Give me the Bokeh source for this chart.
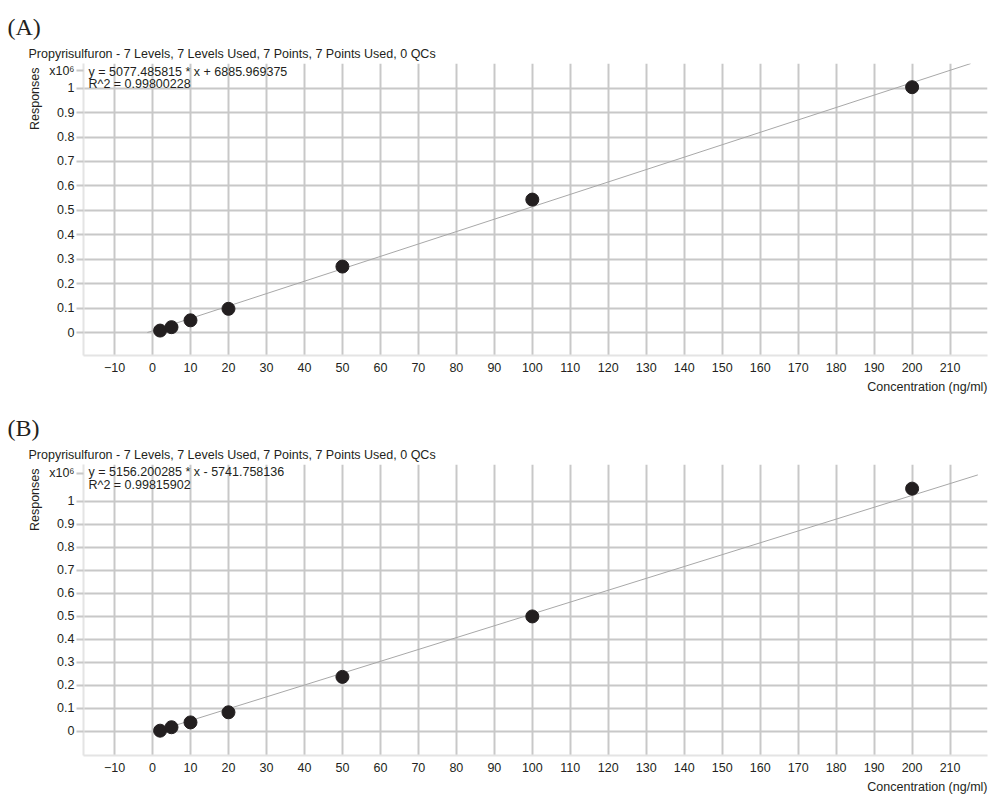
from bokeh.plotting import figure
from bokeh.models import Range1d, FixedTicker, Label, Title, ColumnDataSource
from bokeh.layouts import column
from bokeh.embed import file_html
from bokeh.resources import INLINE

# ---------------- data ----------------
concentrations = [2, 5, 10, 20, 50, 100, 200]          # ng/ml
responses_a = [0.008, 0.022, 0.050, 0.097, 0.270, 0.544, 1.004]   # x10^6
responses_b = [0.002, 0.017, 0.038, 0.082, 0.236, 0.499, 1.055]   # x10^6

slope_a, intercept_a, r2_a = 5077.485815, 6885.969375, "0.99800228"
slope_b, intercept_b, r2_b = 5156.200285, -5741.758136, "0.99815902"
fit_x_a = [-1.36, 215.4]
fit_x_b = [1.11, 217.3]

x_ticks = [-10, 0, 10, 20, 30, 40, 50, 60, 70, 80, 90, 100, 110, 120, 130,
           140, 150, 160, 170, 180, 190, 200, 210]
y_ticks = [0, 0.1, 0.2, 0.3, 0.4, 0.5, 0.6, 0.7, 0.8, 0.9, 1.0]
y_tick_labels = ["0", "0.1", "0.2", "0.3", "0.4", "0.5", "0.6", "0.7", "0.8", "0.9", "1"]
scale_label = "x10\u2076"

title_text = "Propyrisulfuron - 7 Levels, 7 Levels Used, 7 Points, 7 Points Used, 0 QCs"

SANS = "Liberation Sans"
SERIF = "Liberation Serif"
TXT = "#231f20"
GRID = "#c8c8c8"
BORDER = "#e4e4e4"
FS = "12.5px"


def panel(tag, resp, slope, intercept, r2, fit_x, height, border_top, border_bottom,
          y_range, scale_pos, eq_sign, eq_y):
    p = figure(width=991, height=height, output_backend="svg", toolbar_location=None,
               x_range=Range1d(-18.17, 219.85), y_range=Range1d(*y_range),
               min_border_left=83, min_border_right=4,
               min_border_top=border_top, min_border_bottom=border_bottom)
    p.outline_line_color = None
    p.background_fill_color = "white"
    p.border_fill_color = "white"

    yt = y_ticks + [scale_pos]
    p.xaxis.ticker = FixedTicker(ticks=x_ticks)
    p.yaxis.ticker = FixedTicker(ticks=yt)
    ov = {t: l for t, l in zip(y_ticks, y_tick_labels)}
    ov[scale_pos] = scale_label
    p.yaxis.major_label_overrides = ov
    p.xgrid.ticker = FixedTicker(ticks=x_ticks)
    p.ygrid.ticker = FixedTicker(ticks=y_ticks)
    for g in (p.xgrid, p.ygrid):
        g.grid_line_color = GRID
        g.grid_line_width = 2

    for ax in (p.xaxis, p.yaxis):
        ax.axis_line_color = BORDER
        ax.axis_line_width = 2
        ax.minor_tick_line_color = None
        ax.major_label_text_font = SANS
        ax.major_label_text_font_size = FS
        ax.major_label_text_color = TXT
    p.xaxis.major_tick_line_color = None
    p.xaxis.major_tick_out = 0
    p.xaxis.major_tick_in = 0
    p.xaxis.major_label_standoff = 7
    p.yaxis.major_tick_in = 0
    p.yaxis.major_tick_out = 7
    p.yaxis.major_tick_line_color = GRID
    p.yaxis.major_tick_line_width = 2
    p.yaxis.major_label_standoff = 2

    fy = [(slope * x + intercept) / 1e6 for x in fit_x]
    p.line(fit_x, fy, line_color="#a8a8a8", line_width=1)
    src = ColumnDataSource(dict(x=concentrations, y=resp))
    p.scatter("x", "y", source=src, size=13, fill_color=TXT, line_color=TXT)

    # equation text inside the frame
    for txt, sy in ((f"y = {slope:.6f} * x  {eq_sign} {abs(intercept):.6f}", eq_y[0]),
                    ("R^2 = " + r2, eq_y[1])):
        p.add_layout(Label(x=5, y=sy, x_units="screen", y_units="screen", text=txt,
                           text_font=SANS, text_font_size=FS, text_color=TXT,
                           text_align="left", text_baseline="middle"))

    # titles above the frame
    p.add_layout(Title(text=title_text, align="left", offset=-55, standoff=5,
                       text_font=SANS, text_font_size=FS, text_font_style="normal",
                       text_color=TXT), "above")
    p.add_layout(Title(text=tag, align="left", offset=-76, standoff=6,
                       text_font=SERIF, text_font_size="24px", text_font_style="normal",
                       text_color=TXT), "above")
    # axis titles
    p.add_layout(Title(text="Responses", align="right", offset=4, standoff=9,
                       text_font=SANS, text_font_size=FS, text_font_style="normal",
                       text_color=TXT), "left")
    p.add_layout(Title(text="Concentration (ng/ml)", align="right", offset=0, standoff=7,
                       text_font=SANS, text_font_size=FS, text_font_style="normal",
                       text_color=TXT), "below")
    return p


pa = panel("(A)", responses_a, slope_a, intercept_a, r2_a, fit_x_a, 400, 63, 45,
           (-0.094, 1.101), 1.072, "+", (283.3, 271.7))
pb = panel("(B)", responses_b, slope_b, intercept_b, r2_b, fit_x_b, 397, 64, 40,
           (-0.106, 1.160), 1.121, "-", (283.7, 270.3))

layout = column(pa, pb, spacing=0)
open("out.html", "w").write(file_html(layout, INLINE))
